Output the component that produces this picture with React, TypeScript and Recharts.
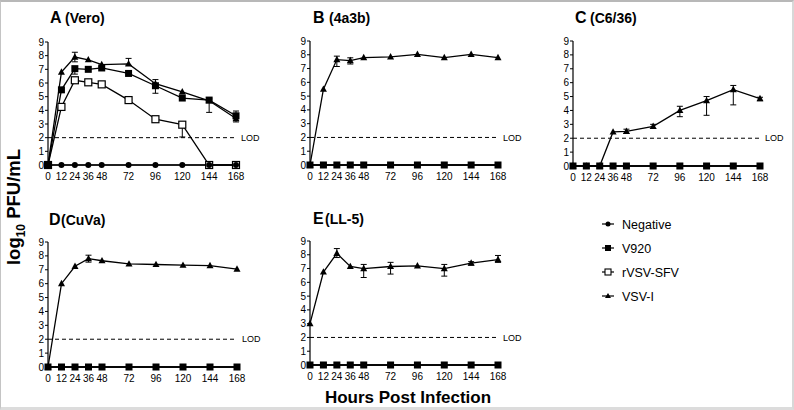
import React from 'react';
import { LineChart, Line, XAxis, YAxis, ReferenceLine, ErrorBar } from 'recharts';

const hours = [0, 12, 24, 36, 48, 72, 96, 120, 144, 168];
const yTicks = [0, 1, 2, 3, 4, 5, 6, 7, 8, 9];
const zeros = [0, 0, 0, 0, 0, 0, 0, 0, 0, 0];
const noErr = [null, null, null, null, null, null, null, null, null, null];

// A (Vero)
const aV920 = [0, 5.5, 7.05, 7.0, 7.1, 6.7, 5.8, 4.9, 4.75, 3.6];
const aV920Err = [null, null, [0.4, 0.05], null, null, null, [0.55, 0.45], null, [0.9, 0.1], null];
const aSfv = [0, 4.25, 6.2, 6.05, 5.9, 4.75, 3.35, 2.95, 0, 0];
const aSfvErr = [null, null, null, null, null, null, null, [0.9, 0.1], null, null];
const aVsv = [0, 6.8, 7.9, 7.7, 7.35, 7.4, 5.95, 5.35, 4.7, 3.4];
const aVsvErr = [null, null, [0.35, 0.35], null, null, [0.1, 0.4], null, null, null, [0.25, 0.55]];

// B (4a3b)
const bVsv = [0, 5.5, 7.65, 7.58, 7.8, 7.85, 8.03, 7.8, 8.03, 7.8];
const bVsvErr = [null, null, [0.5, 0.25], [0.25, 0.2], null, null, null, null, null, null];

// C (C6/36)
const cVsv = [0, 0, 0, 2.45, 2.5, 2.85, 4.0, 4.7, 5.5, 4.85];
const cVsvErr = [null, null, null, null, [0.15, 0.15], [0.15, 0.15], [0.45, 0.3], [1.05, 0.3], [1.1, 0.3], [0.15, 0.1]];

// D (CuVa)
const dVsv = [0, 6.0, 7.25, 7.8, 7.65, 7.42, 7.38, 7.33, 7.3, 7.05];
const dVsvErr = [null, null, null, [0.25, 0.25], null, null, null, null, null, null];

// E (LL-5)
const eVsv = [3.0, 6.75, 8.1, 7.15, 7.0, 7.15, 7.2, 7.0, 7.4, 7.65];
const eVsvErr = [null, null, [0.3, 0.35], null, [0.65, 0.3], [0.55, 0.3], null, [0.55, 0.3], [0.15, 0.1], [0.2, 0.3]];

const FONT = '"Liberation Sans", Arial, sans-serif';

const buildRows = (vsv: number[], vsvErr: any[], v920 = zeros, v920Err: any[] = noErr, sfv?: number[], sfvErr?: any[]) =>
  hours.map((h, i) => ({
    h,
    neg: 0,
    v920: v920[i],
    v920Err: v920Err[i],
    sfv: sfv ? sfv[i] : undefined,
    sfvErr: sfvErr ? sfvErr[i] : null,
    vsv: vsv[i],
    vsvErr: vsvErr[i],
  }));

const CircleDot = (p: any) =>
  p.cx == null ? null : <circle key={`c${p.index}`} cx={p.cx} cy={p.cy} r={3} fill="#000" />;
const SquareDot = (p: any) =>
  p.cx == null ? null : <rect key={`s${p.index}`} x={p.cx - 3.5} y={p.cy - 3.5} width={7} height={7} fill="#000" />;
const OpenSquareDot = (p: any) =>
  p.cx == null ? null : (
    <rect key={`o${p.index}`} x={p.cx - 3.5} y={p.cy - 3.5} width={7} height={7} fill="#fff" stroke="#000" strokeWidth={1.2} />
  );
const TriDot = (p: any) =>
  p.cx == null ? null : (
    <path key={`t${p.index}`} d={`M${p.cx},${p.cy - 3.8} L${p.cx + 3.5},${p.cy + 2.6} L${p.cx - 3.5},${p.cy + 2.6} Z`} fill="#000" />
  );

const YW = 30;
const TM = 8;
const RM = 36;
const BM = 22;

type PanelProps = { left: number; top: number; w: number; h: number; data: any[]; showSfv?: boolean };

const Panel: React.FC<PanelProps> = ({ left, top, w, h, data, showSfv }) => (
  <div style={{ position: 'absolute', left: left - YW, top: top - TM }}>
    <LineChart width={YW + w + RM} height={TM + h + BM} data={data} margin={{ top: TM, right: RM, left: 0, bottom: 0 }}>
      <XAxis
        dataKey="h"
        type="number"
        domain={[0, 168]}
        ticks={hours}
        interval={0}
        height={BM}
        tickLine={false}
        axisLine={{ stroke: '#000', strokeWidth: 1.2 }}
        tick={{ fontSize: 10, fill: '#000', fontFamily: FONT }}
      />
      <YAxis
        type="number"
        domain={[0, 9]}
        ticks={yTicks}
        interval={0}
        width={YW}
        tickSize={3}
        tickMargin={1}
        axisLine={{ stroke: '#000', strokeWidth: 1.2 }}
        tickLine={{ stroke: '#000' }}
        tick={{ fontSize: 10, fill: '#000', fontFamily: FONT }}
      />
      <ReferenceLine
        y={2}
        stroke="#000"
        strokeDasharray="4 3"
        label={{ value: 'LOD', position: 'right', fontSize: 9, fill: '#000', fontFamily: FONT }}
      />
      {showSfv && (
        <Line dataKey="sfv" stroke="#000" strokeWidth={1.3} dot={OpenSquareDot} isAnimationActive={false}>
          <ErrorBar dataKey="sfvErr" width={3} stroke="#000" strokeWidth={1} />
        </Line>
      )}
      <Line dataKey="neg" stroke="#000" strokeWidth={1.3} dot={CircleDot} isAnimationActive={false} />
      <Line dataKey="vsv" stroke="#000" strokeWidth={1.3} dot={TriDot} isAnimationActive={false}>
        <ErrorBar dataKey="vsvErr" width={3} stroke="#000" strokeWidth={1} />
      </Line>
      <Line dataKey="v920" stroke="#000" strokeWidth={1.3} dot={SquareDot} isAnimationActive={false}>
        <ErrorBar dataKey="v920Err" width={3} stroke="#000" strokeWidth={1} />
      </Line>
    </LineChart>
  </div>
);

const legendItems = [
  { name: 'Negative', kind: 'circle' },
  { name: 'V920', kind: 'square' },
  { name: 'rVSV-SFV', kind: 'open' },
  { name: 'VSV-I', kind: 'tri' },
];

const Title = ({ x, y, letter, rest, restX }: { x: number; y: number; letter: string; rest: string; restX: number }) => (
  <text y={y} fontFamily={FONT} fontWeight="bold" fill="#000">
    <tspan x={x} fontSize={16}>{letter}</tspan>
    <tspan x={restX} fontSize={14}>{rest}</tspan>
  </text>
);

export default function App() {
  return (
    <div style={{ position: 'absolute', left: 0, top: 0, width: 794, height: 410, background: '#fff', overflow: 'hidden' }}>
      <Panel left={48} top={42} w={188} h={123} data={buildRows(aVsv, aVsvErr, aV920, aV920Err, aSfv, aSfvErr)} showSfv />
      <Panel left={310} top={41} w={188} h={124} data={buildRows(bVsv, bVsvErr)} />
      <Panel left={573} top={41} w={187} h={125} data={buildRows(cVsv, cVsvErr)} />
      <Panel left={48} top={242} w={189} h={125} data={buildRows(dVsv, dVsvErr)} />
      <Panel left={310} top={241} w={188} h={124} data={buildRows(eVsv, eVsvErr)} />
      <svg width={794} height={410} style={{ position: 'absolute', left: 0, top: 0, pointerEvents: 'none' }}>
        <Title x={50} y={23} letter="A" rest="(Vero)" restX={65} />
        <Title x={313} y={23} letter="B" rest="(4a3b)" restX={329} />
        <Title x={575} y={23} letter="C" rest="(C6/36)" restX={590} />
        <Title x={49} y={225} letter="D" rest="(CuVa)" restX={61} />
        <Title x={313} y={224} letter="E" rest="(LL-5)" restX={325} />
        <text
          transform="translate(20,207) rotate(-90)"
          textAnchor="middle"
          fontFamily={FONT}
          fontWeight="bold"
          fontSize={18.5}
          fill="#000"
        >
          log<tspan fontSize={12} dy={5}>10</tspan>
          <tspan dy={-5}> PFU/mL</tspan>
        </text>
        <text x={408} y={403} textAnchor="middle" fontFamily={FONT} fontWeight="bold" fontSize={17} fill="#000">
          Hours Post Infection
        </text>
        {legendItems.map((it, i) => {
          const cy = 224 + i * 24;
          const cx = 608;
          return (
            <g key={it.name}>
              <line x1={cx - 6} x2={cx + 6} y1={cy} y2={cy} stroke="#000" strokeWidth={1.2} />
              {it.kind === 'circle' && <circle cx={cx} cy={cy} r={2.5} fill="#000" />}
              {it.kind === 'square' && <rect x={cx - 3} y={cy - 3} width={6} height={6} fill="#000" />}
              {it.kind === 'open' && <rect x={cx - 3} y={cy - 3} width={6} height={6} fill="#fff" stroke="#000" strokeWidth={1.1} />}
              {it.kind === 'tri' && <path d={`M${cx},${cy - 3} L${cx + 3},${cy + 2} L${cx - 3},${cy + 2} Z`} fill="#000" />}
              <text x={622} y={cy + 4.5} fontFamily={FONT} fontSize={12.5} fill="#000">
                {it.name}
              </text>
            </g>
          );
        })}
      </svg>
      <div
        style={{
          position: 'absolute',
          left: 0,
          top: 0,
          width: 794,
          height: 410,
          boxSizing: 'border-box',
          borderTop: '2px solid #b8b8b8',
          borderLeft: '1px solid #c4c4c4',
          borderRight: '2px solid #d8d8d8',
          borderBottom: '3px solid #dcdcdc',
          pointerEvents: 'none',
        }}
      />
    </div>
  );
}
